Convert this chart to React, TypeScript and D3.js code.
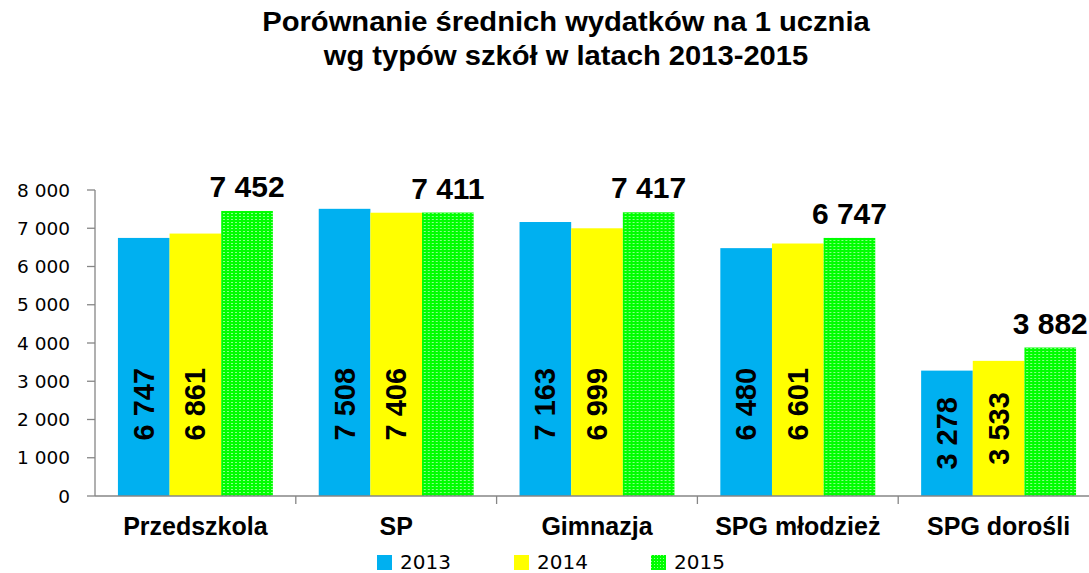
import React from "react";
import * as d3 from "d3";

const categories = ["Przedszkola", "SP", "Gimnazja", "SPG młodzież", "SPG dorośli"];
const years = ["2013", "2014", "2015"];
const values2013 = [6747, 7508, 7163, 6480, 3278];
const values2014 = [6861, 7406, 6999, 6601, 3533];
const values2015 = [7452, 7411, 7417, 6747, 3882];
const yTicks = [0, 1000, 2000, 3000, 4000, 5000, 6000, 7000, 8000];
const titleLines = ["Porównanie średnich wydatków na 1 ucznia", "wg typów szkół w latach 2013-2015"];

const seriesValues = [values2013, values2014, values2015];
const colors = ["#00B0F0", "#FFFF00", "url(#greenDots)"];
const legendColors = ["#00B0F0", "#FFFF00", "url(#greenDotsSmall)"];

const W = 1089;
const H = 573;
const axisLeft = 95;
const axisBottom = 496;
const axisTop = 190;
const catStep = 200.8;

const fmt = (v: number) => {
  const s = String(v);
  return s.length > 3 ? s.slice(0, s.length - 3) + " " + s.slice(s.length - 3) : s;
};

export default function App() {
  const x = d3
    .scaleBand<string>()
    .domain(categories)
    .range([axisLeft, axisLeft + catStep * categories.length])
    .paddingInner(0)
    .paddingOuter(0);
  const xs = d3
    .scaleBand<string>()
    .domain(years)
    .range([0, x.bandwidth()])
    .paddingInner(0)
    .paddingOuter(0.444);
  const y = d3.scaleLinear().domain([0, 8000]).range([axisBottom, axisTop]);

  const axisColor = "#868686";
  const sans = "Liberation Sans, Arial, sans-serif";
  const tickFont = "DejaVu Sans, sans-serif";

  return (
    <svg
      width={W}
      height={H}
      style={{ position: "absolute", left: 0, top: 0, background: "#fff" }}
    >
      <defs>
        <pattern id="greenDots" width="4" height="3" patternUnits="userSpaceOnUse">
          <rect width="4" height="3" fill="#00FF00" />
          <rect x="0" y="0" width="2" height="1" fill="#ffffff" opacity="0.55" />
        </pattern>
        <pattern id="greenDotsSmall" width="3" height="3" patternUnits="userSpaceOnUse">
          <rect width="3" height="3" fill="#00FF00" />
          <rect x="0" y="0" width="1" height="1" fill="#ffffff" opacity="0.55" />
        </pattern>
      </defs>
      <rect width={W} height={H} fill="#fff" />

      {/* cropped fragment at top-left */}
      <text x={8} y={-8} fontFamily={sans} fontSize={22} fontStyle="italic" fill="#000">
        y
      </text>

      {/* title */}
      <g transform="translate(566,0) scale(1.08,1)">
        {titleLines.map((t, i) => (
          <text
            key={i}
            x={0}
            y={31 + i * 34}
            textAnchor="middle"
            fontFamily={sans}
            fontWeight="bold"
            fontSize={27}
            fill="#000"
          >
            {t}
          </text>
        ))}
      </g>

      {/* y axis */}
      <line x1={axisLeft} x2={axisLeft} y1={y(8000)} y2={axisBottom} stroke={axisColor} strokeWidth={1.3} />
      {yTicks.map((t) => (
        <g key={t}>
          <line x1={axisLeft - 8} x2={axisLeft} y1={y(t)} y2={y(t)} stroke={axisColor} strokeWidth={1.3} />
          <text
            x={axisLeft - 25}
            y={y(t)}
            textAnchor="end"
            dominantBaseline="central"
            fontFamily={tickFont}
            fontSize={18.5}
            fill="#000"
          >
            {fmt(t)}
          </text>
        </g>
      ))}

      {/* bars */}
      {categories.map((c, ci) => (
        <g key={c} transform={`translate(${x(c)},0)`}>
          {years.map((yr, si) => {
            const v = seriesValues[si][ci];
            return (
              <rect
                key={yr}
                x={xs(yr)}
                y={y(v)}
                width={xs.bandwidth()}
                height={axisBottom - y(v)}
                fill={colors[si]}
              />
            );
          })}
        </g>
      ))}

      {/* x axis */}
      <line x1={axisLeft} x2={W + 20} y1={axisBottom} y2={axisBottom} stroke={axisColor} strokeWidth={1.3} />
      {categories.map((c, ci) =>
        ci === 0 ? null : (
          <line
            key={c}
            x1={x(c)}
            x2={x(c)}
            y1={axisBottom}
            y2={axisBottom + 8}
            stroke={axisColor}
            strokeWidth={1.3}
          />
        )
      )}
      {categories.map((c) => (
        <text
          key={c}
          x={(x(c) as number) + x.bandwidth() / 2}
          y={535}
          textAnchor="middle"
          fontFamily={sans}
          fontWeight="bold"
          fontSize={25}
          fill="#000"
        >
          {c}
        </text>
      ))}

      {/* labels inside blue / yellow bars */}
      {categories.map((c, ci) =>
        [0, 1].map((si) => {
          const v = seriesValues[si][ci];
          const cx = (x(c) as number) + (xs(years[si]) as number) + xs.bandwidth() / 2;
          const cy = y(Math.min(v / 2, 2400));
          return (
            <text
              key={c + si}
              transform={`translate(${cx},${cy}) rotate(-90)`}
              textAnchor="middle"
              dominantBaseline="central"
              fontFamily={sans}
              fontWeight="bold"
              fontSize={29}
              fill="#000"
            >
              {fmt(v)}
            </text>
          );
        })
      )}

      {/* labels above green bars */}
      {categories.map((c, ci) => {
        const v = values2015[ci];
        const cx = (x(c) as number) + (xs(years[2]) as number) + xs.bandwidth() / 2;
        return (
          <text
            key={c}
            x={cx}
            y={y(v) - 14}
            textAnchor="middle"
            fontFamily={sans}
            fontWeight="bold"
            fontSize={30}
            fill="#000"
          >
            {fmt(v)}
          </text>
        );
      })}

      {/* legend */}
      {years.map((yr, i) => (
        <g key={yr} transform={`translate(${377 + i * 137},555)`}>
          <rect width={15} height={15} fill={legendColors[i]} />
          <text x={23} y={14} fontFamily={tickFont} fontSize={20} fill="#000">
            {yr}
          </text>
        </g>
      ))}
    </svg>
  );
}
